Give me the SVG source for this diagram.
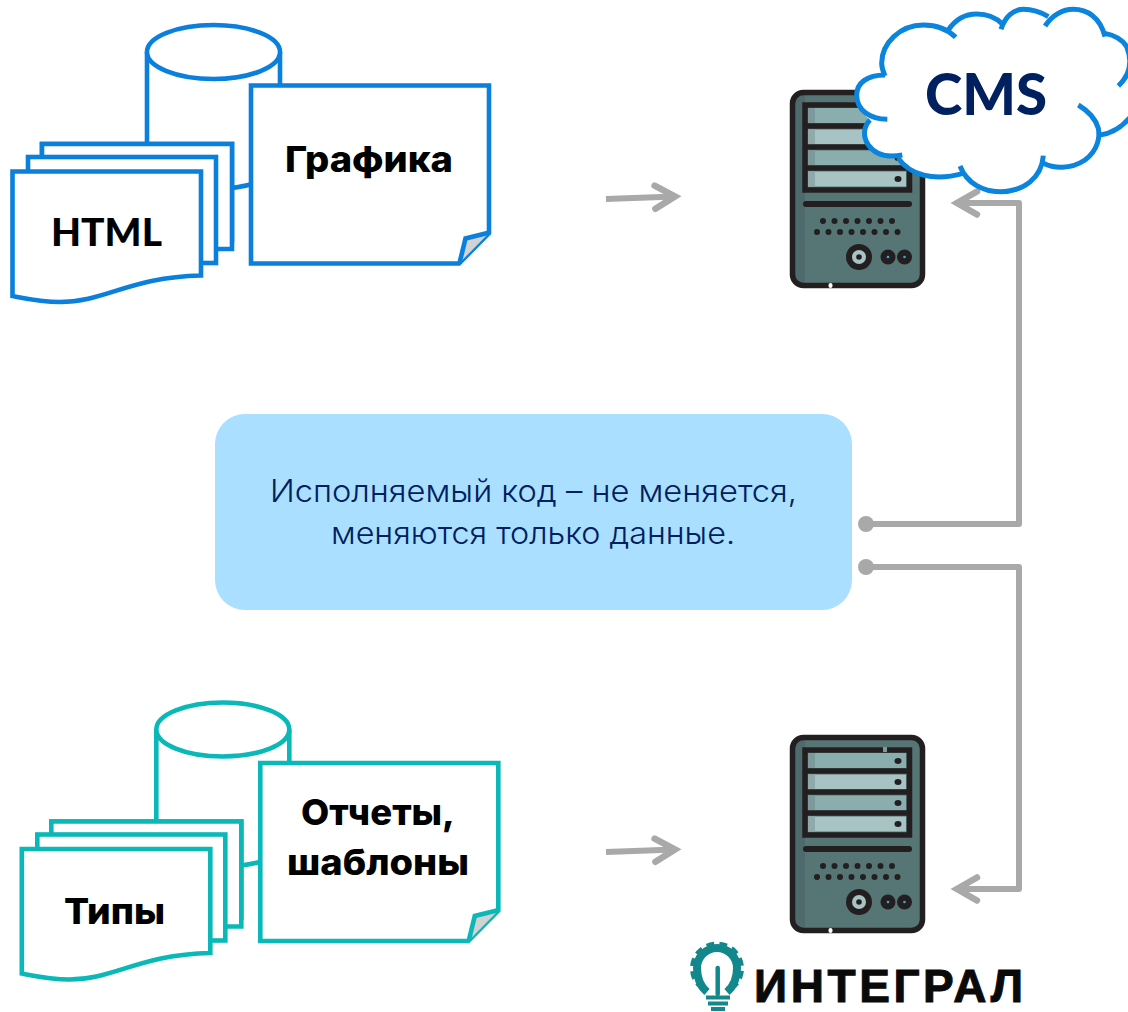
<svg xmlns="http://www.w3.org/2000/svg" width="1128" height="1012" viewBox="0 0 1128 1012">
<style>
.blue{stroke:#0a80dc}
.teal{stroke:#0ab8b8}
text{stroke:none}
.sh{fill:#fff;stroke-width:4.6;stroke-miterlimit:10}
.fold{fill:#d2d2d2;stroke-width:4.6;stroke-linejoin:miter}
.lbl{font-family:"Inter","Noto Sans",sans-serif;font-weight:800;fill:#000;font-size:36px}
.lat{font-family:"Lato","Inter",sans-serif;font-weight:900;fill:#000;font-size:37px}
.cms{font-family:"Lato","Inter",sans-serif;font-weight:900;fill:#002060;font-size:57px}
.body{font-family:"Inter","Noto Sans",sans-serif;font-weight:300;fill:#002060;font-size:31px}
.logo{font-family:"Liberation Sans",Arial,sans-serif;font-weight:700;fill:#0a0a0a;font-size:46px;stroke:#0a0a0a;stroke-width:1}
.con{fill:none;stroke:#a9a9a9;stroke-width:6;stroke-linejoin:round}
.cl{fill:none;stroke:#0a84dc;stroke-width:15;stroke-linecap:butt}
.k{fill:#231f20}
.sv{fill:none;stroke:#231f20}
</style>
<defs>
<marker id="arrow" markerUnits="userSpaceOnUse" markerWidth="44" markerHeight="44" refX="30" refY="22" orient="auto" overflow="visible">
<path d="M10,10.500 L30,22 L10,33.500" fill="none" stroke="#a9a9a9" stroke-width="6.500" stroke-linecap="round" stroke-linejoin="miter"/>
</marker>
<marker id="dot" markerUnits="userSpaceOnUse" markerWidth="20" markerHeight="20" refX="10" refY="10" orient="auto" overflow="visible">
<circle cx="10" cy="10" r="8" fill="#a9a9a9"/>
</marker>
<g id="cyl">
<path class="sh" d="M147,52 V162 A66.500,27 0 0 0 280,162 V52"/>
<ellipse class="sh" cx="213.500" cy="52" rx="66.500" ry="27"/>
</g>
<g id="sheets">
<rect class="sh" x="42" y="144" width="190" height="96"/>
<path class="sh" d="M42,240 V144 H232 V249 H216"/>
<rect class="sh" x="28" y="157" width="188" height="106"/>
<path class="sh" d="M12.500,171.500 H201 V275.500 C130,277 105,302 60,302 C42,302 28,299 12.500,296 Z"/>
</g>
<g id="note">
<path class="sh" d="M251,85.500 H489 V233 L459,263.500 H251 Z"/>
<path class="fold" d="M489.500,232.500 L465.500,238.500 L459.500,263"/>
</g>
<g id="server">
<rect x="792.500" y="737.500" width="130" height="193" rx="11" fill="#567575"/>
<rect x="793" y="740" width="12" height="188" fill="#4f6a6c"/>
<rect x="792.500" y="737.500" width="130" height="193" rx="11" class="sv" stroke-width="5.500"/>
<rect x="805" y="750" width="104.500" height="85" fill="#567575" class="sv" stroke-width="5.500"/>
<rect x="808" y="753" width="98" height="15" fill="#8aadad"/><rect x="808" y="753" width="7" height="15" fill="#7c9a9c"/>
<rect x="808" y="774.500" width="98" height="15" fill="#a7c3c3"/><rect x="808" y="774.500" width="7" height="15" fill="#90a9ab"/>
<rect x="808" y="795.500" width="98" height="15" fill="#8aadad"/><rect x="808" y="795.500" width="7" height="15" fill="#7c9a9c"/>
<rect x="808" y="816.500" width="98" height="15" fill="#a7c3c3"/><rect x="808" y="816.500" width="7" height="15" fill="#90a9ab"/>
<path d="M806,771 H909 M806,792 H909 M806,813 H909" class="sv" stroke-width="5.500"/>
<g class="k">
<ellipse cx="898" cy="761" rx="3.500" ry="3"/><ellipse cx="898" cy="782" rx="3.500" ry="3"/><ellipse cx="898" cy="803" rx="3.500" ry="3"/><ellipse cx="898" cy="824" rx="3.500" ry="3"/>
<rect x="803" y="846" width="109" height="6" rx="3"/>
<circle cx="823" cy="866" r="3"/><circle cx="834.500" cy="866" r="3"/><circle cx="846" cy="866" r="3"/><circle cx="857.500" cy="866" r="3"/><circle cx="869" cy="866" r="3"/><circle cx="880.500" cy="866" r="3"/><circle cx="892" cy="866" r="3"/>
<circle cx="817" cy="877" r="3"/><circle cx="828.500" cy="877" r="3"/><circle cx="840" cy="877" r="3"/><circle cx="851.500" cy="877" r="3"/><circle cx="863" cy="877" r="3"/><circle cx="874.500" cy="877" r="3"/><circle cx="886" cy="877" r="3"/><circle cx="897.500" cy="877" r="3"/>
<circle cx="859" cy="902" r="13"/><circle cx="888" cy="902" r="7.500"/><circle cx="904.500" cy="902" r="7.500"/>
</g>
<circle cx="859" cy="902" r="7" fill="#a7c3c3"/><circle cx="859" cy="902" r="2.800" class="k"/>
<circle cx="888" cy="902" r="1.300" fill="#3ea6dc"/><circle cx="904.500" cy="902" r="1.300" fill="#3ea6dc"/>
<rect x="828.500" y="928" width="4" height="5" rx="2" fill="#fff"/>
</g>
</defs>

<g id="node-cylinder-top" class="blue"><use href="#cyl"/></g>
<g id="node-sheets-top" class="blue"><use href="#sheets"/><text class="lat" x="51" y="246" textLength="111" lengthAdjust="spacingAndGlyphs">HTML</text></g>
<g id="node-note-top" class="blue"><use href="#note"/><text class="lbl" x="285" y="172" textLength="168" lengthAdjust="spacingAndGlyphs">Графика</text></g>

<g id="node-cylinder-bottom" class="teal" transform="translate(9.300,677.500)"><use href="#cyl"/></g>
<g id="node-sheets-bottom" class="teal"><g transform="translate(9.300,677.500)"><use href="#sheets"/></g><text class="lbl" x="64" y="924" textLength="101" lengthAdjust="spacingAndGlyphs">Типы</text></g>
<g id="node-note-bottom" class="teal"><g transform="translate(9.300,677.500)"><use href="#note"/></g>
<text class="lbl" x="301" y="825" textLength="154" lengthAdjust="spacingAndGlyphs">Отчеты,</text>
<text class="lbl" x="287" y="875" textLength="182" lengthAdjust="spacingAndGlyphs">шаблоны</text></g>

<g id="connectors">
<path class="con" marker-end="url(#arrow)" d="M606,199 L675,196.500"/>
<path class="con" marker-end="url(#arrow)" d="M606,852 L675,849.500"/>
<path class="con" marker-start="url(#dot)" marker-end="url(#arrow)" d="M866,524 H1019 V203 H957"/>
<path class="con" marker-start="url(#dot)" marker-end="url(#arrow)" d="M866,567 H1019 V889 H957"/>
</g>

<g id="node-server-top" transform="translate(0,-645)"><use href="#server"/></g>
<g id="node-cloud" transform="translate(770,0) scale(0.33333)">
<path fill="#fff" d="M345,225 C290,225 260,250 260,285 C260,330 300,358 300,360 C280,380 278,410 295,435 C320,470 360,472 385,475 C420,525 490,545 575,522 C590,550 640,575 690,575 C760,575 815,535 820,490 C850,505 900,510 945,480 C985,450 990,410 990,405 C1030,400 1060,380 1090,340 L1090,140 L1070,140 C1055,115 1030,105 1005,100 C990,50 950,28 910,28 C875,28 845,50 835,50 C810,35 785,28 760,28 C730,28 705,50 697,72 C675,50 650,42 620,42 C585,42 555,60 545,100 C530,85 495,75 460,75 C390,75 335,130 335,190 C335,205 340,215 345,225Z"/>
<path class="cl" d="M345,225 C290,225 260,250 260,285 C260,330 300,358 352,358"/>
<path class="cl" d="M300,360 C280,380 278,410 295,435 C320,470 360,472 397,465"/>
<path class="cl" d="M385,475 C420,525 490,545 580,520"/>
<path class="cl" d="M570,498 C590,550 640,575 690,575 C760,575 815,535 820,467"/>
<path class="cl" d="M820,490 C850,505 900,510 945,480 C985,450 990,410 985,385 C975,350 950,330 925,315"/>
<path class="cl" d="M990,405 C1030,400 1060,380 1090,340"/>
<path class="cl" d="M1045,258 C1075,230 1090,190 1070,140 C1055,115 1030,105 1005,100"/>
<path class="cl" d="M1005,110 C990,50 950,28 910,28 C875,28 845,50 825,78"/>
<path class="cl" d="M835,50 C810,35 785,28 760,28 C730,28 705,50 693,88"/>
<path class="cl" d="M697,72 C675,50 650,42 620,42 C585,42 555,60 535,90"/>
<path class="cl" d="M557,112 C530,85 495,75 460,75 C390,75 335,130 335,190 C335,205 340,215 345,228"/>
</g>
<g id="node-cms-label"><text class="cms" x="925" y="115" textLength="122" lengthAdjust="spacingAndGlyphs">CMS</text></g>

<g id="node-server-bottom"><use href="#server"/><rect x="883" y="747" width="4" height="5" fill="#7c9a9c"/></g>

<g id="node-box">
<rect x="215" y="414" width="637" height="196" rx="30" fill="#aadfff"/>
<text class="body" x="270" y="502" textLength="527" lengthAdjust="spacingAndGlyphs">Исполняемый код – не меняется,</text>
<text class="body" x="331" y="544" textLength="404" lengthAdjust="spacingAndGlyphs">меняются только данные.</text>
</g>

<g id="node-logo">
<path d="M707,992 C700,986 697,978 697,968 A20,20 0 0 1 737,968 C737,978 734,986 727,992" fill="none" stroke="#12878c" stroke-width="8"/>
<path d="M703,988 A24,24 0 1 1 731,988" fill="none" stroke="#12878c" stroke-width="6" stroke-dasharray="7.500 5"/>
<path d="M717.700,968 V994" stroke="#12878c" stroke-width="4.500" stroke-linecap="round" fill="none"/>
<path d="M706,997.500 H730 M708,1003.500 H728 M711,1009 H725" stroke="#12878c" stroke-width="3.800" fill="none"/>
<text class="logo" x="754" y="1002" textLength="269" lengthAdjust="spacing">ИНТЕГРАЛ</text>
</g>
</svg>
